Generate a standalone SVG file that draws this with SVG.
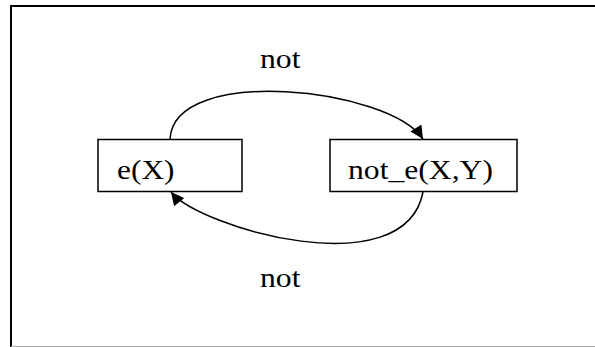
<svg xmlns="http://www.w3.org/2000/svg" width="595" height="347" viewBox="0 0 595 347">
  <style>
    .frame { fill: none; stroke: #000; stroke-width: 2; }
    .node rect { fill: #fff; stroke: #000; stroke-width: 1.5; }
    text { font-family: "Liberation Serif", "Times New Roman", serif; font-size: 28px; fill: #000; }
    .edge { fill: none; stroke: #000; stroke-width: 1.5; marker-end: url(#arrow); }
  </style>
  <defs>
    <marker id="arrow" viewBox="0 0 10 10" refX="10" refY="5" markerWidth="16" markerHeight="13" markerUnits="userSpaceOnUse" orient="auto">
      <path d="M0,0 L10,5 L0,10 z" fill="#000"/>
    </marker>
  </defs>

  <!-- page frame -->
  <rect x="0" y="0" width="595" height="347" fill="#fff"/>
  <path class="frame" d="M11,347 V6 H600"/>
  <line x1="11" y1="346.5" x2="595" y2="346.5" stroke="#aaa" stroke-width="1"/>

  <!-- connectors -->
  <g id="edges">
    <path class="edge" d="M170,139 C174,64 390,88 423,139"/>
    <path class="edge" d="M423,192 C405,287 200,228 171,192"/>
    <text x="260" y="68" textLength="40.5" lengthAdjust="spacingAndGlyphs">not</text>
    <text x="260" y="287" textLength="40.5" lengthAdjust="spacingAndGlyphs">not</text>
  </g>

  <!-- nodes -->
  <g id="node-e" class="node">
    <rect x="98" y="139.5" width="144" height="52"/>
    <text x="117" y="179" textLength="57.5" lengthAdjust="spacingAndGlyphs">e(X)</text>
  </g>
  <g id="node-not-e" class="node">
    <rect x="330" y="139.5" width="187" height="52"/>
    <text x="348" y="179" textLength="145" lengthAdjust="spacingAndGlyphs">not_e(X,Y)</text>
  </g>
</svg>
